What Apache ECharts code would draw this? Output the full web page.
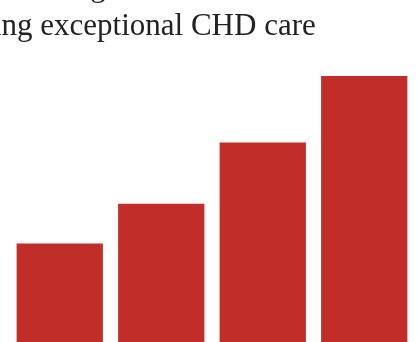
<!DOCTYPE html>
<html>
<head>
<meta charset="utf-8">
<style>
  html, body { margin: 0; padding: 0; background: #fff; }
  #container { width: 419px; height: 342px; }
</style>
<script src="https://cdn.jsdelivr.net/npm/echarts@6/dist/echarts.min.js"></script>
</head>
<body>
<div id="container"></div>
<script>
var dom = document.getElementById('container');
var myChart = echarts.init(dom, null, { renderer: 'canvas' });

// data
var titleLines = ['Hospitals recognized for', 'providing exceptional CHD care'];
var categories = ['A', 'B', 'C', 'D'];
var values = [37, 52, 75, 100];

var option = {
    animation: false,
    title: {
        text: titleLines.join('\n'),
        left: -88,
        top: -32,
        padding: 0,
        textStyle: {
            fontFamily: '"Liberation Serif", serif',
            fontSize: 31,
            fontWeight: 'normal',
            lineHeight: 39,
            color: '#222'
        }
    },
    grid: {
        left: 9,
        right: 4,
        top: 76,
        bottom: 0
    },
    xAxis: {
        type: 'category',
        data: categories,
        axisLine: { show: false },
        axisTick: { show: false },
        axisLabel: { show: false }
    },
    yAxis: {
        type: 'value',
        min: 0,
        max: 100,
        show: false,
        splitLine: { show: false }
    },
    series: [
        {
            type: 'bar',
            data: values,
            barWidth: '85%',
            itemStyle: { color: '#c12e2a' }
        }
    ]
};

myChart.setOption(option);
window.addEventListener('resize', myChart.resize);
</script>
</body>
</html>
